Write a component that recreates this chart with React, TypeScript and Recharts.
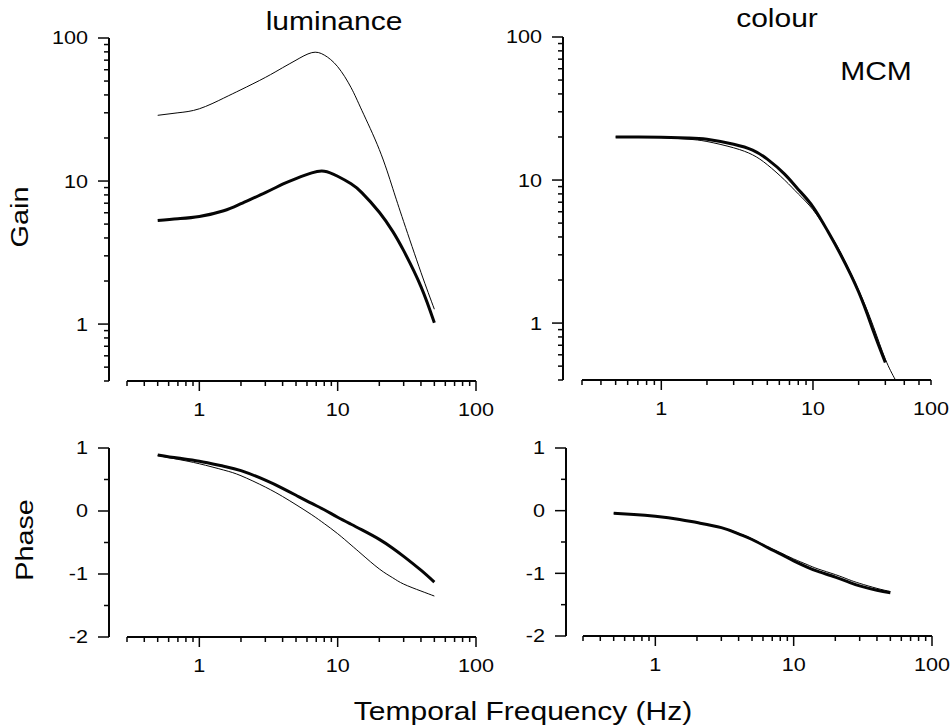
import React from "react";
import { Line, LineChart, XAxis, YAxis } from "recharts";

const FREQ = [0.5, 0.7, 1, 1.5, 2, 3, 4, 5, 6.5, 8, 10, 12.5, 15, 20, 25, 30, 40, 50];
const COLOUR_FREQ_THICK = [0.5, 0.7, 1, 1.5, 2, 3, 4, 5, 6.5, 8, 10, 12.5, 15, 20, 25, 30];
const COLOUR_FREQ_THIN = [0.5, 0.7, 1, 1.5, 2, 3, 4, 5, 6.5, 8, 10, 12.5, 15, 20, 25, 30, 35];

// luminance gain
const LUM_GAIN_THIN = [28.8, 30, 32, 38, 43.5, 53, 62, 70, 79, 76, 63, 45, 31, 16.6, 8.9, 5.2, 2.3, 1.27];
const LUM_GAIN_THICK = [5.3, 5.45, 5.65, 6.2, 6.95, 8.3, 9.5, 10.4, 11.4, 11.7, 10.8, 9.56, 8.27, 6.05, 4.45, 3.26, 1.83, 1.02];

// colour gain
const COL_GAIN_THICK = [20, 20, 19.9, 19.7, 19.3, 17.8, 16.2, 14, 11, 8.6, 6.5, 4.4, 3.1, 1.65, 0.88, 0.53];
const COL_GAIN_THIN = [20, 19.9, 19.8, 19.3, 18.6, 16.8, 15, 12.8, 10, 8.0, 6.2, 4.4, 3.2, 1.7, 0.95, 0.56, 0.4];

// phase
const LUM_PHASE_THICK = [0.89, 0.84, 0.79, 0.71, 0.64, 0.49, 0.36, 0.25, 0.12, 0.02, -0.1, -0.21, -0.3, -0.45, -0.59, -0.72, -0.94, -1.13];
const LUM_PHASE_THIN = [0.88, 0.82, 0.75, 0.65, 0.56, 0.38, 0.23, 0.1, -0.06, -0.2, -0.36, -0.54, -0.69, -0.92, -1.06, -1.16, -1.27, -1.35];
const COL_PHASE_THICK = [-0.04, -0.06, -0.09, -0.14, -0.19, -0.27, -0.37, -0.46, -0.59, -0.69, -0.8, -0.9, -0.97, -1.06, -1.14, -1.2, -1.27, -1.31];
const COL_PHASE_THIN = [-0.04, -0.06, -0.09, -0.14, -0.19, -0.27, -0.36, -0.45, -0.58, -0.67, -0.77, -0.86, -0.93, -1.02, -1.1, -1.16, -1.24, -1.29];

// ticks
const LOG_X_TICKS = [0.3, 0.4, 0.5, 0.6, 0.7, 0.8, 0.9, 1, 2, 3, 4, 5, 6, 7, 8, 9, 10, 20, 30, 40, 50, 60, 70, 80, 90, 100];
const LOG_X_LABELS: Record<string, string> = { "1": "1", "10": "10", "100": "100" };
const LOG_X_MAJOR = [1, 10, 100];
const COL_X_TICKS = [0.3, 0.4, 0.5, 0.6, 0.7, 0.8, 0.9, 1, 2, 3, 4, 5, 6, 7, 8, 9, 10, 20, 30, 40, 50, 60];
const COL_X_LABELS: Record<string, string> = { "1": "1", "10": "10", "60": "100" };
const COL_X_MAJOR = [1, 10];
const GAIN_TICKS = [0.4, 0.5, 0.6, 0.7, 0.8, 0.9, 1, 2, 3, 4, 5, 6, 7, 8, 9, 10, 20, 30, 40, 50, 60, 70, 80, 90, 100];
const GAIN_LABELS: Record<string, string> = { "1": "1", "10": "10", "100": "100" };
const GAIN_MAJOR = [1, 10, 100];
const PHASE_TICKS = [-2, -1.5, -1, -0.5, 0, 0.5, 1];
const PHASE_LABELS: Record<string, string> = { "-2": "-2", "-1": "-1", "0": "0", "1": "1" };
const PHASE_MAJOR = [-2, -1, 0, 1];

const FONT = "'Liberation Sans', Arial, sans-serif";
const INK = "#050505";
const STRETCH = 1.2;
const YW = 90;
const XH = 45;

const zip = (fs: number[], vs: number[]) => fs.map((f, i) => ({ f, v: vs[i] }));

type Series = { data: { f: number; v: number }[]; width: number };

type PanelProps = {
  plot: { x: number; y: number; w: number; h: number };
  axisOff: number;
  xDomain: [number, number];
  xTicks: number[];
  xLabels: Record<string, string>;
  xMajor: number[];
  yLog: boolean;
  yDomain: [number, number];
  yTicks: number[];
  yLabels: Record<string, string>;
  yMajor: number[];
  series: Series[];
};

function XTick(props: any) {
  const { x, y, payload, labels, major } = props;
  const v = payload.value;
  const len = major.includes(v) ? 10 : 5;
  const label = labels[String(v)];
  return (
    <g>
      <line x1={x} x2={x} y1={y} y2={y + len} stroke={INK} strokeWidth={1.5} />
      {label && (
        <text
          transform={`translate(${x},${y + 35}) scale(${STRETCH},1)`}
          textAnchor="middle"
          fontSize={18}
          fontFamily={FONT}
          fill={INK}
        >
          {label}
        </text>
      )}
    </g>
  );
}

function YTick(props: any) {
  const { x, y, payload, labels, major, off } = props;
  const v = payload.value;
  const ax = x + off;
  const len = major.includes(v) ? 11 : 5;
  const label = labels[String(v)];
  return (
    <g>
      <line x1={ax - len} x2={ax} y1={y} y2={y} stroke={INK} strokeWidth={1.5} />
      {label && (
        <text
          transform={`translate(${ax - 21},${y}) scale(${STRETCH},1)`}
          textAnchor="end"
          dy="0.36em"
          fontSize={18}
          fontFamily={FONT}
          fill={INK}
        >
          {label}
        </text>
      )}
    </g>
  );
}

function Panel(p: PanelProps) {
  const left = p.plot.x - YW;
  const top = p.plot.y - 20;
  const width = YW + p.plot.w + 20;
  const height = 20 + p.plot.h + XH;
  return (
    <div style={{ position: "absolute", left, top, width, height }}>
      <LineChart width={width} height={height} margin={{ top: 20, right: 20, bottom: 0, left: 0 }}>
        <XAxis
          dataKey="f"
          type="number"
          scale="log"
          domain={p.xDomain}
          allowDataOverflow
          ticks={p.xTicks}
          interval={0}
          height={XH}
          tickSize={0}
          tickMargin={0}
          tickLine={false}
          axisLine={{ stroke: INK, strokeWidth: 2 }}
          tick={(t: any) => <XTick {...t} labels={p.xLabels} major={p.xMajor} />}
        />
        <YAxis
          type="number"
          scale={p.yLog ? "log" : "linear"}
          domain={p.yDomain}
          allowDataOverflow
          ticks={p.yTicks}
          interval={0}
          width={YW}
          tickSize={0}
          tickMargin={0}
          tickLine={false}
          axisLine={{ stroke: INK, strokeWidth: 2, transform: `translate(${p.axisOff},0)` }}
          tick={(t: any) => <YTick {...t} labels={p.yLabels} major={p.yMajor} off={p.axisOff} />}
        />
        {p.series.map((s, i) => (
          <Line
            key={i}
            data={s.data}
            dataKey="v"
            type="natural"
            stroke={INK}
            strokeWidth={s.width}
            dot={false}
            isAnimationActive={false}
          />
        ))}
      </LineChart>
    </div>
  );
}

function Title({ x, y, size, rotate, children }: { x: number; y: number; size: number; rotate?: boolean; children: string }) {
  return (
    <text
      transform={`translate(${x},${y})${rotate ? " rotate(-90)" : ""} scale(${STRETCH},1)`}
      textAnchor="middle"
      fontSize={size}
      fontFamily={FONT}
      fill={INK}
    >
      {children}
    </text>
  );
}

export default function App() {
  return (
    <div style={{ position: "absolute", left: 0, top: 0, width: 951, height: 726, background: "#fff", overflow: "hidden" }}>
      <Panel
        plot={{ x: 127, y: 38, w: 349, h: 343 }}
        axisOff={-18}
        xDomain={[0.3, 100]}
        xTicks={LOG_X_TICKS}
        xLabels={LOG_X_LABELS}
        xMajor={LOG_X_MAJOR}
        yLog
        yDomain={[0.4, 100]}
        yTicks={GAIN_TICKS}
        yLabels={GAIN_LABELS}
        yMajor={GAIN_MAJOR}
        series={[
          { data: zip(FREQ, LUM_GAIN_THIN), width: 1 },
          { data: zip(FREQ, LUM_GAIN_THICK), width: 3 },
        ]}
      />
      <Panel
        plot={{ x: 582, y: 37, w: 349, h: 343 }}
        axisOff={-19}
        xDomain={[0.3, 60]}
        xTicks={COL_X_TICKS}
        xLabels={COL_X_LABELS}
        xMajor={COL_X_MAJOR}
        yLog
        yDomain={[0.4, 100]}
        yTicks={GAIN_TICKS}
        yLabels={GAIN_LABELS}
        yMajor={GAIN_MAJOR}
        series={[
          { data: zip(COLOUR_FREQ_THIN, COL_GAIN_THIN), width: 1 },
          { data: zip(COLOUR_FREQ_THICK, COL_GAIN_THICK), width: 3 },
        ]}
      />
      <Panel
        plot={{ x: 127, y: 448, w: 349, h: 189 }}
        axisOff={-18}
        xDomain={[0.3, 100]}
        xTicks={LOG_X_TICKS}
        xLabels={LOG_X_LABELS}
        xMajor={LOG_X_MAJOR}
        yLog={false}
        yDomain={[-2, 1]}
        yTicks={PHASE_TICKS}
        yLabels={PHASE_LABELS}
        yMajor={PHASE_MAJOR}
        series={[
          { data: zip(FREQ, LUM_PHASE_THIN), width: 1 },
          { data: zip(FREQ, LUM_PHASE_THICK), width: 3 },
        ]}
      />
      <Panel
        plot={{ x: 583, y: 448, w: 349, h: 188 }}
        axisOff={-17}
        xDomain={[0.3, 100]}
        xTicks={LOG_X_TICKS}
        xLabels={LOG_X_LABELS}
        xMajor={LOG_X_MAJOR}
        yLog={false}
        yDomain={[-2, 1]}
        yTicks={PHASE_TICKS}
        yLabels={PHASE_LABELS}
        yMajor={PHASE_MAJOR}
        series={[
          { data: zip(FREQ, COL_PHASE_THIN), width: 1 },
          { data: zip(FREQ, COL_PHASE_THICK), width: 3 },
        ]}
      />
      <svg width={951} height={726} style={{ position: "absolute", left: 0, top: 0, pointerEvents: "none" }}>
        <Title x={334} y={30} size={25}>luminance</Title>
        <Title x={777} y={27} size={25}>colour</Title>
        <Title x={876} y={80} size={25}>MCM</Title>
        <Title x={28} y={217} size={24} rotate>Gain</Title>
        <Title x={33} y={540} size={24} rotate>Phase</Title>
        <Title x={523} y={720} size={25}>Temporal Frequency (Hz)</Title>
      </svg>
    </div>
  );
}
